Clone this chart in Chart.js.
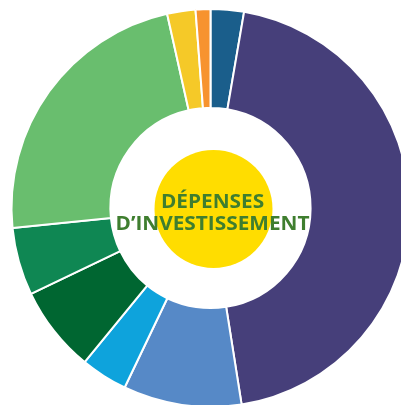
<!DOCTYPE html>
<html>
<head>
<meta charset="utf-8">
<script src="https://cdn.jsdelivr.net/npm/chart.js@4.4.1/dist/chart.umd.min.js"></script>
<style>
    html, body { margin: 0; padding: 0; background: #fff; overflow: hidden; }
    #wrap { position: absolute; left: 0; top: 0; width: 421px; height: 416px; }
</style>
</head>
<body>
<div id="wrap"><canvas id="doughnut-chart"></canvas></div>
<script>
// postes de dépenses (sens horaire depuis midi)
const categories = ["Poste 1", "Poste 2", "Poste 3", "Poste 4", "Poste 5", "Poste 6", "Poste 7", "Poste 8", "Poste 9"];
const values = [2.7, 44.8, 9.6, 3.8, 7.0, 5.5, 23.1, 2.3, 1.2];
const colors = ["#1a5e8b", "#463f7a", "#5689c7", "#0ea3dc", "#006631", "#0f8753", "#69be6e", "#f5c928", "#f7932f"];
const centerLines = ["DÉPENSES", "D’INVESTISSEMENT"];

const centerLabel = {
    id: 'centerLabel',
    afterDraw(chart) {
        const arc = chart.getDatasetMeta(0).data[0];
        const ctx = chart.ctx;
        const cx = arc.x, cy = arc.y;
        ctx.save();
        ctx.fillStyle = '#ffdd00';
        ctx.beginPath();
        ctx.arc(cx + 3, cy + 1, 59, 0, Math.PI * 2);
        ctx.fill();

        ctx.fillStyle = '#3f7e2f';
        ctx.textAlign = 'center';
        ctx.textBaseline = 'alphabetic';
        ctx.font = 'bold 19px "Open Sans"';
        const w = ctx.measureText(centerLines[1]).width;
        const sx = 194 / w;
        ctx.translate(cx + 2, 0);
        ctx.scale(sx, 1);
        ctx.fillText(centerLines[0], 0, cy - 0.5);
        ctx.fillText(centerLines[1], 0, cy + 22);
        ctx.restore();
    }
};

new Chart(document.getElementById("doughnut-chart"), {
    type: 'doughnut',
    data: {
        labels: categories,
        datasets: [
            {
                data: values,
                backgroundColor: colors,
                borderColor: '#ffffff',
                borderWidth: 2
            }
        ]
    },
    options: {
        responsive: true,
        maintainAspectRatio: false,
        animation: false,
        cutout: '50.3%',
        layout: { padding: 8 },
        plugins: {
            legend: { display: false },
            tooltip: { enabled: false }
        }
    },
    plugins: [centerLabel]
});
</script>
</body>
</html>
